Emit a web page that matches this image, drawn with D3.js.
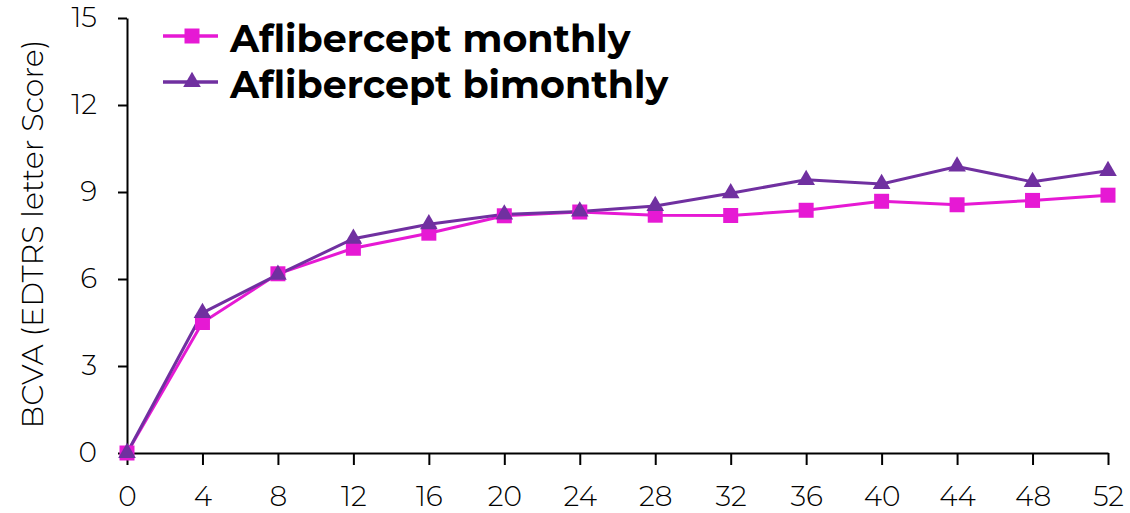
<!DOCTYPE html>
<html>
<head>
<meta charset="utf-8">
<script src="https://cdn.jsdelivr.net/npm/d3@7"></script>
<style>
  body { margin: 0; background: #fff; }
  svg { display: block; font-family: "Montserrat", "Lato", "Noto Sans", sans-serif; }
</style>
</head>
<body>
<div id="chart"></div>
<script>
const weeks = [0, 4, 8, 12, 16, 20, 24, 28, 32, 36, 40, 44, 48, 52];
const monthly = [0, 4.5, 6.18, 7.06, 7.58, 8.18, 8.31, 8.2, 8.19, 8.37, 8.68, 8.56, 8.71, 8.89];
const bimonthly = [0, 4.83, 6.15, 7.39, 7.89, 8.23, 8.33, 8.52, 8.96, 9.42, 9.28, 9.88, 9.35, 9.73];
const yTicks = [0, 3, 6, 9, 12, 15];
const seriesNames = ["Aflibercept monthly", "Aflibercept bimonthly"];
const colors = ["#e619d4", "#7030a0"];

const width = 1130, height = 513;
const margin = {top: 18, right: 22, bottom: 60, left: 127};

const svg = d3.select("#chart").append("svg")
  .attr("width", width)
  .attr("height", height);

const x = d3.scaleLinear().domain([0, 52]).range([margin.left, width - margin.right]);
const y = d3.scaleLinear().domain([0, 15]).range([height - margin.bottom, margin.top]);

// axes
const xAxis = svg.append("g")
  .attr("transform", `translate(0,${y(0)})`)
  .call(d3.axisBottom(x).tickValues(weeks).tickSize(12).tickPadding(21).tickSizeOuter(0));
const yAxis = svg.append("g")
  .attr("transform", `translate(${x(0)},0)`)
  .call(d3.axisLeft(y).tickValues(yTicks).tickSize(9).tickPadding(21).tickSizeOuter(0));

[xAxis, yAxis].forEach(g => {
  g.select(".domain").attr("stroke", "#000").attr("stroke-width", 2);
  g.selectAll(".tick line").attr("stroke", "#000").attr("stroke-width", 2);
  g.selectAll(".tick text")
    .attr("fill", "#000")
    .style("font-size", "28px")
    .style("font-weight", 300)
    .style("font-family", "\"Montserrat\", \"Lato\", \"Noto Sans\", sans-serif");
});

svg.append("text")
  .attr("transform", `translate(43,234) rotate(-90)`)
  .attr("text-anchor", "middle")
  .style("font-size", "30px")
  .style("font-weight", 300)
  .text("BCVA (EDTRS letter Score)");

const line = d3.line().x((d, i) => x(weeks[i])).y(d => y(d));

const square = d3.symbol().type(d3.symbolSquare).size(225);
const triangle = d3.symbol().type(d3.symbolTriangle).size(135);

// monthly
svg.append("path").datum(monthly)
  .attr("fill", "none").attr("stroke", colors[0]).attr("stroke-width", 3)
  .attr("d", line);
// bimonthly
svg.append("path").datum(bimonthly)
  .attr("fill", "none").attr("stroke", colors[1]).attr("stroke-width", 3)
  .attr("d", line);

svg.append("g").selectAll("path").data(monthly).join("path")
  .attr("transform", (d, i) => `translate(${x(weeks[i])},${y(d)})`)
  .attr("d", square)
  .attr("fill", colors[0]);

svg.append("g").selectAll("path").data(bimonthly).join("path")
  .attr("transform", (d, i) => `translate(${x(weeks[i])},${y(d)})`)
  .attr("d", triangle)
  .attr("fill", colors[1]);

// legend
const legend = svg.append("g");
const legendY = [36, 82];
seriesNames.forEach((name, i) => {
  const g = legend.append("g").attr("transform", `translate(163,${legendY[i]})`);
  g.append("line").attr("x1", 0).attr("x2", 55)
    .attr("stroke", colors[i]).attr("stroke-width", 3.5);
  g.append("path")
    .attr("transform", "translate(29,0)")
    .attr("d", i === 0 ? square : triangle)
    .attr("fill", colors[i]);
  g.append("text")
    .attr("x", 67).attr("y", 16)
    .style("font-size", "38px")
    .style("font-weight", 700)
    .text(name);
});
</script>
</body>
</html>
